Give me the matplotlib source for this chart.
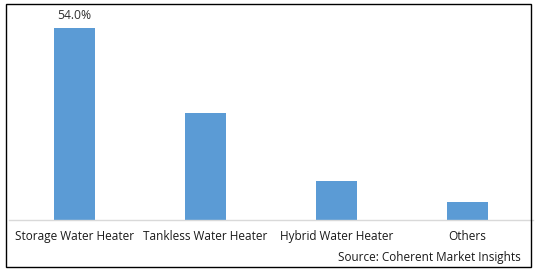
import matplotlib.pyplot as plt
from matplotlib.patches import Rectangle

categories = ["Storage Water Heater", "Tankless Water Heater", "Hybrid Water Heater", "Others"]
shares = [54.0, 30.0, 11.0, 5.0]
label_text = ["54.0%", None, None, None]

W, H = 538, 272
fig = plt.figure(figsize=(W / 100, H / 100), dpi=100)
plt.rcParams['font.family'] = ['Open Sans', 'DejaVu Sans']

# axes placed in pixel terms: baseline at y=220, 54% top at y=28
px_per_unit = (220 - 28) / 54.0
ymax = 60
ax_h = ymax * px_per_unit
ax = fig.add_axes([9 / W, (H - 220) / H, (533 - 9) / W, ax_h / H])

x = range(len(categories))
ax.bar(x, shares, width=0.313, color='#5b9bd5', zorder=2)
ax.set_xlim(-0.5, len(categories) - 0.5)
ax.set_ylim(0, ymax)

for i, (v, t) in enumerate(zip(shares, label_text)):
    if t:
        ax.text(i, v + 1.7, t, ha='center', va='bottom', fontsize=8.7, color='#303030')

ax.set_xticks(list(x))
ax.set_xticklabels(categories, fontsize=8.5, color='#1a1a1a')
ax.tick_params(axis='x', length=0, pad=7)
ax.set_yticks([])
for s in ['top', 'right', 'left']:
    ax.spines[s].set_visible(False)
ax.spines['bottom'].set_color('#d9d9d9')
ax.spines['bottom'].set_linewidth(1)

# outer border
fig.patches.append(Rectangle((6 / W, (H - 267) / H), (531 - 6) / W, (267 - 4) / H,
                             transform=fig.transFigure, fill=False,
                             edgecolor='black', linewidth=1))

fig.text(521 / W, 1 - 257 / H, "Source: Coherent Market Insights", ha='right', va='center',
         fontsize=8.5, color='#1a1a1a')

fig.savefig("out.png", dpi=100)
